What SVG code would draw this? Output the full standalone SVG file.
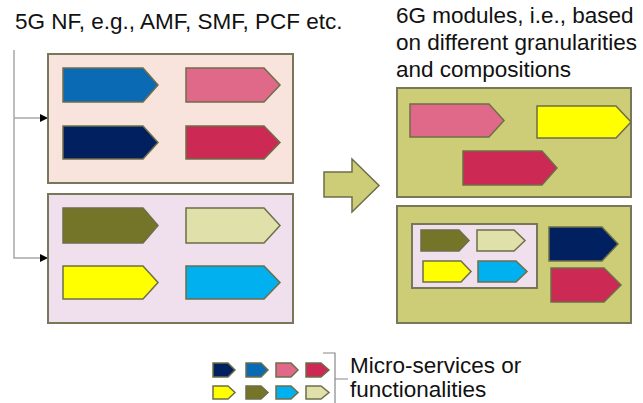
<svg xmlns="http://www.w3.org/2000/svg" width="643" height="403" viewBox="0 0 643 403">
<style>
.t{font-family:"Liberation Sans",Arial,sans-serif;font-size:22.5px;fill:#111}
.box{stroke:#77775a;stroke-width:2}
.ms{stroke:#6e6e48;stroke-width:1.5}
.peach{fill:#f8e4dd}.lav{fill:#f0dfec}.olb{fill:#cdcd77}
.blue{fill:#0a6ab4}.navy{fill:#00205f}.pink{fill:#e0698a}.crim{fill:#cc2955}
.olive{fill:#75752a}.beige{fill:#e0e0ab}.yel{fill:#ffff00}.cyan{fill:#00b0ef}
.conn{fill:none;stroke:#a8a8a8;stroke-width:1.5}
</style>
<defs>
<marker id="ah" viewBox="0 0 10 10" refX="10" refY="5" markerWidth="8" markerHeight="8" markerUnits="userSpaceOnUse" orient="auto">
<path d="M0,0 L10,5 L0,10 Z" fill="#000"/>
</marker>
</defs>
<g id="title-5g"><text class="t" x="15" y="29">5G NF, e.g., AMF, SMF, PCF etc.</text></g>
<g id="title-6g">
<text class="t" x="396" y="23">6G modules, i.e., based</text>
<text class="t" x="396" y="50">on different granularities</text>
<text class="t" x="396" y="77">and compositions</text>
</g>
<g id="connectors">
<path class="conn" d="M14,50 V258 H48" marker-end="url(#ah)"/>
<path class="conn" d="M14,118 H48" marker-end="url(#ah)"/>
</g>
<g id="nf-top">
<rect class="box peach" x="48" y="54" width="245" height="129"/>
<path class="ms blue" d="M63,68 H143 L158,85 L143,102 H63 Z"/>
<path class="ms pink" d="M186,68 H264 L280,85 L264,102 H186 Z"/>
<path class="ms navy" d="M63,126 H143 L158,142.5 L143,159 H63 Z"/>
<path class="ms crim" d="M186,126 H264 L280,142.5 L264,159 H186 Z"/>
</g>
<g id="nf-bottom">
<rect class="box lav" x="48" y="194" width="245" height="129"/>
<path class="ms olive" d="M63,208 H143 L158,225.5 L143,243 H63 Z"/>
<path class="ms beige" d="M186,208 H264 L280,225.5 L264,243 H186 Z"/>
<path class="ms yel" d="M63,266 H143 L158,282.5 L143,299 H63 Z"/>
<path class="ms cyan" d="M186,266 H264 L280,282.5 L264,299 H186 Z"/>
</g>
<g id="big-arrow">
<path class="ms olb" d="M324,172 H352 V159 L379,185.5 L352,212 V197 H324 Z"/>
</g>
<g id="module-top">
<rect class="box olb" x="397" y="88" width="234" height="109"/>
<path class="ms pink" d="M410,104 H489 L504,120.5 L489,137 H410 Z"/>
<path class="ms yel" d="M537,106 H616 L631,122 L616,138 H537 Z"/>
<path class="ms crim" d="M463,151 H542 L557,168 L542,185 H463 Z"/>
</g>
<g id="module-bottom">
<rect class="box olb" x="397" y="206" width="234" height="117"/>
<rect class="box lav" x="412" y="224" width="125" height="64"/>
<path class="ms olive" d="M421,230 H459 L469,240.5 L459,251 H421 Z"/>
<path class="ms beige" d="M477,230 H514 L525,240.5 L514,251 H477 Z"/>
<path class="ms yel" d="M423,261 H461 L471,271.5 L461,282 H423 Z"/>
<path class="ms cyan" d="M478,261 H516 L527,271.5 L516,282 H478 Z"/>
<path class="ms navy" d="M549,227 H602 L618,244 L602,261 H549 Z"/>
<path class="ms crim" d="M551,268 H604 L621,285 L604,302 H551 Z"/>
</g>
<g id="legend">
<path class="ms navy" d="M213,363 H228 L235,370 L228,377 H213 Z"/>
<path class="ms blue" d="M246,363 H261 L268,370 L261,377 H246 Z"/>
<path class="ms pink" d="M276,363 H291 L298,370 L291,377 H276 Z"/>
<path class="ms crim" d="M306,363 H321 L329,370 L321,377 H306 Z"/>
<path class="ms yel" d="M213,386 H228 L235,392.5 L228,399 H213 Z"/>
<path class="ms olive" d="M246,386 H261 L268,392.5 L261,399 H246 Z"/>
<path class="ms cyan" d="M276,386 H291 L298,392.5 L291,399 H276 Z"/>
<path class="ms beige" d="M306,386 H321 L329,392.5 L321,399 H306 Z"/>
<path d="M323,353 H335 V403 M335,379 H348" fill="none" stroke="#888" stroke-width="1.2"/>
<text class="t" x="350" y="373">Micro-services or</text>
<text class="t" x="350" y="397">functionalities</text>
</g>
</svg>
